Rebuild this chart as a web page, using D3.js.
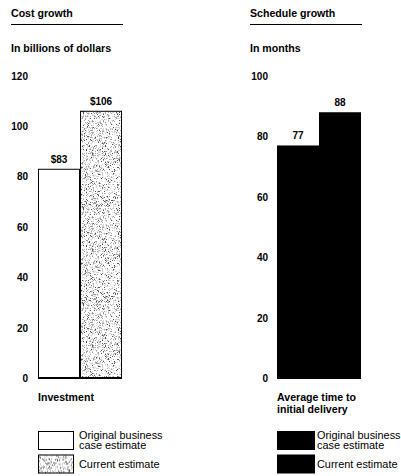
<!DOCTYPE html>
<html>
<head>
<meta charset="utf-8">
<script src="https://cdn.jsdelivr.net/npm/d3@7"></script>
<style>
  html, body { margin: 0; padding: 0; background: #fff; }
  svg { display: block; font-family: "Liberation Sans", Arial, sans-serif; }
  .title { font-size: 10.6px; font-weight: bold; }
  .tick text { font-size: 10px; font-weight: bold; fill: #000; }
  .val { font-size: 10px; font-weight: bold; }
  .cat { font-size: 10.6px; font-weight: bold; }
  .leg { font-size: 10.9px; }
</style>
</head>
<body>
<svg id="chart" width="401" height="476"></svg>
<script>
// Data
const series = ["Original business case estimate", "Current estimate"];
const costValues = [83, 106];
const costLabels = ["$83", "$106"];
const costTicks = [0, 20, 40, 60, 80, 100, 120];
const scheduleValues = [77, 88];
const scheduleLabels = ["77", "88"];
const scheduleTicks = [0, 20, 40, 60, 80, 100];

const svg = d3.select("#chart");

// Fine stipple texture (deterministic speckle) for the current-estimate fill
function stippleTile(w, h) {
  const c = document.createElement("canvas");
  c.width = w; c.height = h;
  const ctx = c.getContext("2d");
  ctx.fillStyle = "#fff";
  ctx.fillRect(0, 0, w, h);
  let s = 12345;
  const rnd = () => (s = (s * 1103515245 + 12345) & 0x7fffffff) / 0x7fffffff;
  for (let yy = 0; yy < h; yy++) {
    for (let xx = 0; xx < w; xx++) {
      const r = rnd();
      if (r < 0.045) ctx.fillStyle = "#555";
      else if (r < 0.15) ctx.fillStyle = "#a0a0a0";
      else if (r < 0.33) ctx.fillStyle = "#d4d4d4";
      else continue;
      ctx.fillRect(xx, yy, 1, 1);
    }
  }
  return c.toDataURL();
}
const defs = svg.append("defs");
const pat = defs.append("pattern").attr("id", "stipple")
  .attr("patternUnits", "userSpaceOnUse").attr("width", 96).attr("height", 96);
pat.append("image").attr("href", stippleTile(96, 96)).attr("width", 96).attr("height", 96)
  .style("image-rendering", "pixelated");

const fillOf = f => f === "stipple" ? "url(#stipple)" : f;

function panel(opts) {
  const g = svg.append("g");
  g.append("text").attr("class", "title").attr("x", opts.x0).attr("y", 17).text(opts.title);
  g.append("line").attr("x1", opts.x0).attr("x2", opts.x0 + 112)
    .attr("y1", 24.5).attr("y2", 24.5).attr("stroke", "#000").attr("stroke-width", 1);
  g.append("text").attr("class", "title").attr("x", opts.x0).attr("y", 51.5).text(opts.unit);

  const y = d3.scaleLinear().domain([0, d3.max(opts.ticks)]).range([378, opts.top]);
  const x = d3.scaleBand().domain(series).range([opts.barX, opts.barX + 84]).padding(0);

  const axis = d3.axisLeft(y).tickValues(opts.ticks).tickSize(0).tickPadding(0);
  g.append("g").attr("transform", `translate(${opts.axisX},0)`).call(axis)
    .call(a => a.select(".domain").remove())
    .selectAll("text").attr("dy", "0.35em");

  const bars = g.selectAll(".bar").data(opts.values).join("g");
  bars.append("rect")
    .attr("x", (d, i) => x(series[i]))
    .attr("y", d => y(d))
    .attr("width", x.bandwidth())
    .attr("height", d => y(0) - y(d))
    .attr("fill", (d, i) => fillOf(opts.fills[i]))
    .attr("stroke", "none");
  bars.filter((d, i) => opts.fills[i] !== "#000").append("rect")
    .attr("x", (d, i) => x(series[i]) + 0.5)
    .attr("y", d => y(d) + 0.5)
    .attr("width", x.bandwidth() - 1)
    .attr("height", d => y(0) - y(d) - 0.5)
    .attr("fill", "none").attr("stroke", "#000").attr("stroke-width", 1);
  bars.append("text").attr("class", "val")
    .attr("x", (d, i) => x(series[i]) + x.bandwidth() / 2)
    .attr("y", d => y(d) - 6)
    .attr("text-anchor", "middle")
    .text((d, i) => opts.labels[i]);

  g.append("line").attr("x1", opts.barX).attr("x2", opts.barX + 84)
    .attr("y1", y(0)).attr("y2", y(0)).attr("stroke", "#000").attr("stroke-width", 2);

  const cat = g.append("text").attr("class", "cat").attr("x", opts.barX).attr("y", 400.5);
  opts.category.forEach((t, i) => cat.append("tspan").attr("x", opts.barX).attr("dy", i ? 12 : 0).text(t));

  // Legend
  const leg = g.selectAll(".legitem").data(series).join("g")
    .attr("transform", (d, i) => `translate(${opts.barX},${431 + i * 23.5})`);
  leg.append("rect").attr("width", opts.legW).attr("height", 19)
    .attr("fill", (d, i) => fillOf(opts.fills[i]));
  leg.filter((d, i) => opts.fills[i] !== "#000").append("rect")
    .attr("x", 0.5).attr("y", 0.5).attr("width", opts.legW - 1).attr("height", 18)
    .attr("fill", "none").attr("stroke", "#000").attr("stroke-width", 1);
  leg.each(function(d, i) {
    const tx = opts.legW + opts.legGap;
    const t = d3.select(this).append("text").attr("class", "leg").attr("x", tx);
    const lines = i === 0 ? ["Original business", "case estimate"] : ["Current estimate"];
    lines.forEach((s, k) => t.append("tspan").attr("x", tx)
      .attr("y", lines.length === 1 ? 13.5 : 7.5 + k * 10.5).text(s));
  });
}

panel({
  x0: 11, title: "Cost growth", unit: "In billions of dollars",
  ticks: costTicks, top: 75.5, axisX: 28, barX: 38,
  values: costValues, labels: costLabels, fills: ["#fff", "stipple"],
  category: ["Investment"], legW: 36, legGap: 5
});
panel({
  x0: 250, title: "Schedule growth", unit: "In months",
  ticks: scheduleTicks, top: 76, axisX: 268, barX: 277,
  values: scheduleValues, labels: scheduleLabels, fills: ["#000", "#000"],
  category: ["Average time to", "initial delivery"], legW: 38, legGap: 2
});
</script>
</body>
</html>
